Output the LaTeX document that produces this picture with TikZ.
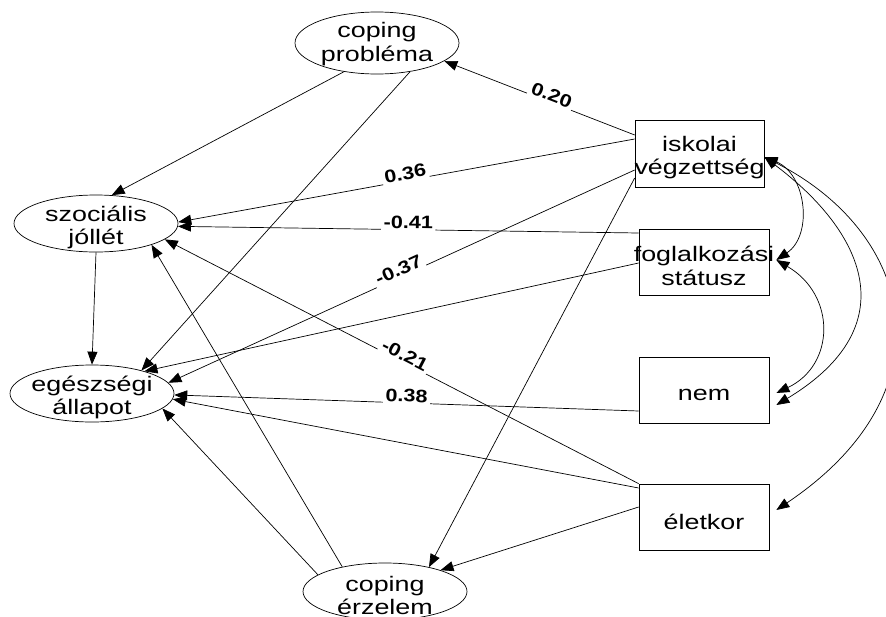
\documentclass[tikz,border=0pt]{standalone}
\usepackage{fontspec}
\newfontfamily\nodefont[FakeStretch=1.28]{Liberation Sans}
\newfontfamily\coeffont[FakeStretch=1.2]{Liberation Sans}
\usetikzlibrary{arrows.meta,shapes.geometric}
\begin{document}
\begin{tikzpicture}[x=1pt,y=-1pt,
  latent/.style={ellipse,draw,line width=0.7pt,minimum width=164pt,minimum height=57pt,inner sep=0pt},
  observed/.style={rectangle,draw,line width=0.7pt,minimum width=130pt,minimum height=66pt,inner sep=0pt},
  txt/.style={font=\nodefont\fontsize{21}{23.5}\selectfont,align=center,inner sep=0pt},
  conn/.style={line width=0.7pt,-{Triangle[length=13pt,width=10pt]}},
  cov/.style={line width=0.7pt,{Triangle[length=13pt,width=10pt]}-{Triangle[length=13pt,width=10pt]}},
  coef/.style={font=\coeffont\bfseries\fontsize{18}{20}\selectfont,fill=white,inner sep=2.5pt,sloped,above=-2pt,pos=0.5}
]
\useasboundingbox (0,0) rectangle (886,616);
% latent variables
\node[latent,minimum height=62pt,label={[txt,yshift=-1pt]center:coping\\probléma}] (cp) at (377,43) {};
\node[latent,label={[txt,yshift=-4pt]center:szociális\\jóllét}] (sz) at (96,223.5) {};
\node[latent,label={[txt,yshift=-4pt]center:egészségi\\állapot}] (eg) at (92,393.5) {};
\node[latent,label={[txt,yshift=-4pt]center:coping\\érzelem}] (ce) at (385,591.5) {};
% observed variables
\node[observed,minimum width=129pt,minimum height=67pt,label={[txt,yshift=-4pt]center:iskolai\\végzettség}] (isk) at (699.5,153.5) {};
\node[observed,label={[txt,yshift=-4pt]center:foglalkozási\\státusz}] (fog) at (704,262) {};
\node[observed,label={[txt,yshift=-5pt]center:nem}] (nem) at (704,390) {};
\node[observed,label={[txt,yshift=-5pt]center:életkor}] (ele) at (704,517) {};
% regression paths
\draw[conn] (cp.221) -- (sz.61);
\draw[conn] (cp.-41) -- (eg.25);
\draw[conn] (sz.south) -- (eg.north);
\draw[conn] (ce.150) -- (sz.-21);
\draw[conn] (ce.166) -- (eg.-12);
\draw[conn] ([yshift=-24.5pt]isk.west) -- (ce.29);
\draw[conn] ([yshift=-1pt]fog.west) -- (eg.23);
\draw[conn] ([yshift=29pt]ele.west) -- (eg.-4.5);
\draw[conn] ([yshift=10pt]ele.west) -- (ce.21);
\draw[conn] ([yshift=18.5pt]isk.west) -- node[coef,pos=0.45]{0.20} (cp.-15);
\draw[conn] ([yshift=14.5pt]isk.west) -- node[coef]{0.36} (sz.1);
\draw[conn] ([yshift=-16.5pt]isk.west) -- node[coef]{-0.37} (eg.8);
\draw[conn] ([yshift=29pt]fog.west) -- node[coef]{-0.41} (sz.-2);
\draw[conn] ([yshift=-21pt]nem.west) -- node[coef]{0.38} (eg.-1);
\draw[conn] (ele.north west) -- node[coef]{-0.21} (sz.-13);
% covariances
\draw[cov] ([yshift=-3.5pt]isk.east) .. controls +(42,17) and +(37,-25) .. ([xshift=7pt,yshift=2pt]fog.east);
\draw[cov] ([yshift=-3.5pt]isk.east) .. controls +(100,75) and +(131,-79) .. ([xshift=7pt,yshift=-15pt]nem.east);
\draw[cov] ([yshift=-3.5pt]isk.east) .. controls +(150,76) and +(177,-119) .. ([xshift=7pt,yshift=7pt]ele.east);
\draw[cov] ([xshift=7pt,yshift=2pt]fog.east) .. controls +(60,35) and +(59,-28) .. ([xshift=7pt,yshift=-3pt]nem.east);
\end{tikzpicture}
\end{document}
